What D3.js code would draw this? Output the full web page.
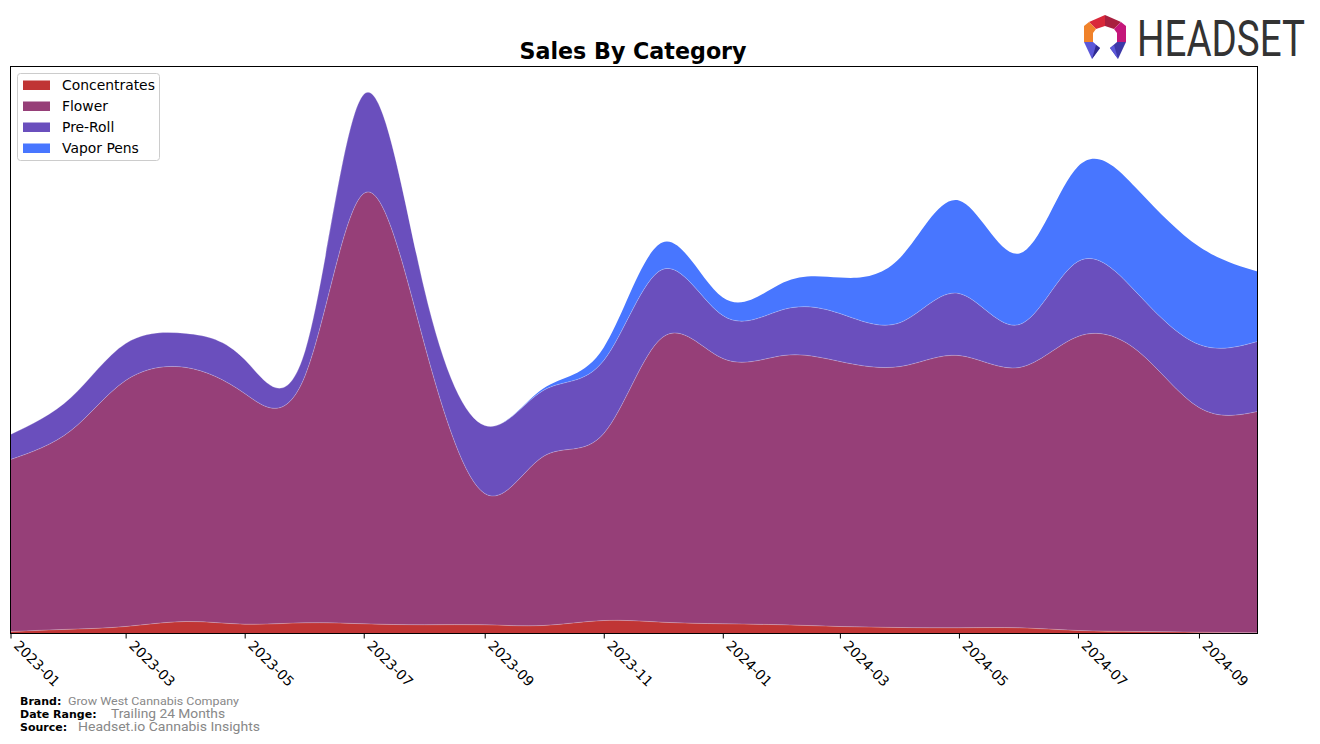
<!DOCTYPE html>
<html>
<head>
<meta charset="utf-8">
<script src="https://cdn.jsdelivr.net/npm/d3@7"></script>
<style>
  html, body { margin: 0; padding: 0; background: #fff; }
  svg { display: block; }
</style>
</head>
<body>
<svg id="chart" width="1320" height="744"></svg>
<script>
// ---- data ----
const months = ["2023-01","2023-02","2023-03","2023-04","2023-05","2023-06","2023-07","2023-08","2023-09","2023-10","2023-11","2023-12",
                "2024-01","2024-02","2024-03","2024-04","2024-05","2024-06","2024-07","2024-08","2024-09","2024-10"];
const categories = ["Concentrates","Flower","Pre-Roll","Vapor Pens"];
const concentrates = [2, 4.3, 7, 12, 9.3, 10.7, 9.7, 8.7, 8.7, 8, 13, 11.3, 9.7, 8.7, 7, 6, 5.7, 5.7, 3, 2, 1.3, 0.7];
const flower       = [172, 198.7, 246, 254, 230.7, 247.3, 430.3, 281.3, 131.3, 169, 187, 284.7, 265.3, 269.3, 265, 261, 272.3, 260.3, 294, 280, 224.7, 221.3];
const preRoll      = [25, 33, 37, 34, 34, 25, 99, 55, 68, 66, 73, 68, 43, 46, 48, 44, 62, 43, 75, 57, 63, 70];
const vaporPens    = [0, 0, 0, 0, 0, 0, 0, 0, 0, 2, 13, 27, 18, 27, 36, 65, 93, 71, 95, 104, 98, 70];
const tickLabels = ["2023-01","2023-03","2023-05","2023-07","2023-09","2023-11","2024-01","2024-03","2024-05","2024-07","2024-09"];
const colors = ["#c03535", "#963f78", "#6a4fbd", "#4876ff"];
const yMax = 567;

// ---- layout ----
const svg = d3.select("#chart");
const L = 10.5, R = 1257.5, T = 66.5, B = 633.5;
const parse = d3.timeParse("%Y-%m");

const rows = months.map((m, i) => ({
  date: parse(m),
  "Concentrates": concentrates[i],
  "Flower": flower[i],
  "Pre-Roll": preRoll[i],
  "Vapor Pens": vaporPens[i]
}));

const x = d3.scaleTime().domain(d3.extent(rows, d => d.date)).range([L, R]);
const y = d3.scaleLinear().domain([0, yMax]).range([B, T]);

const stack = d3.stack().keys(categories);
const series = stack(rows);

const area = d3.area()
  .x(d => x(d.data.date))
  .y0(d => y(d[0]))
  .y1(d => y(d[1]))
  .curve(d3.curveNatural);
const topLine = d3.line()
  .x(d => x(d.data.date))
  .y(d => y(d[1]))
  .curve(d3.curveNatural);

svg.append("defs").append("clipPath").attr("id", "plotclip")
  .append("rect").attr("x", L).attr("y", T).attr("width", R - L).attr("height", B - T);

const g = svg.append("g").attr("clip-path", "url(#plotclip)");
g.selectAll("path.area").data(series).join("path")
  .attr("class", "area")
  .attr("d", area)
  .attr("fill", (d, i) => colors[i]);
g.selectAll("path.edge").data(series.slice(0, 3)).join("path")
  .attr("class", "edge")
  .attr("d", topLine)
  .attr("fill", "none")
  .attr("stroke", "#ffffff")
  .attr("stroke-opacity", 0.3)
  .attr("stroke-width", 0.8);

// frame
svg.append("rect").attr("x", L).attr("y", T).attr("width", R - L).attr("height", B - T)
  .attr("fill", "none").attr("stroke", "#000").attr("stroke-width", 1);

// x axis
const tickDates = tickLabels.map(parse);
const xAxis = d3.axisBottom(x).tickValues(tickDates).tickFormat(d3.timeFormat("%Y-%m")).tickSize(5).tickSizeOuter(0);
const ax = svg.append("g").attr("transform", `translate(0,${B})`).call(xAxis);
ax.select(".domain").remove();
ax.selectAll(".tick line").attr("stroke", "#000").attr("stroke-width", 1);
ax.selectAll(".tick text")
  .attr("font-family", "DejaVu Sans")
  .attr("font-size", 13.9)
  .attr("fill", "#000")
  .attr("text-anchor", "start")
  .attr("dy", null)
  .attr("y", 0)
  .attr("transform", "translate(2,13) rotate(45)");

// title
svg.append("text").attr("x", 633).attr("y", 59).attr("text-anchor", "middle")
  .attr("font-family", "DejaVu Sans").attr("font-weight", "bold").attr("font-size", 22.2)
  .attr("fill", "#000").text("Sales By Category");

// legend
const lg = svg.append("g");
lg.append("rect").attr("x", 17.5).attr("y", 73.5).attr("width", 142).attr("height", 87).attr("rx", 3)
  .attr("fill", "#fff").attr("fill-opacity", 0.8).attr("stroke", "#cccccc");
categories.forEach((c, i) => {
  const cy = 85 + i * 21;
  lg.append("rect").attr("x", 23).attr("y", cy - 4.5).attr("width", 27).attr("height", 9.5).attr("fill", colors[i]);
  lg.append("text").attr("x", 62).attr("y", cy + 5).attr("font-family", "DejaVu Sans").attr("font-size", 13.9)
    .attr("fill", "#000").text(c);
});

// footer
const foot = [
  ["Brand:", "Grow West Cannabis Company", 68, 705, 11, 171],
  ["Date Range:", "Trailing 24 Months", 111, 718, 13, 114],
  ["Source:", "Headset.io Cannabis Insights", 78, 731, 13, 182]
];
foot.forEach(f => {
  svg.append("text").attr("x", 20).attr("y", f[3]).attr("font-family", "DejaVu Sans").attr("font-weight", "bold")
    .attr("font-size", 11).attr("fill", "#000").text(f[0]);
  svg.append("text").attr("x", f[2]).attr("y", f[3]).attr("font-family", "Roboto").attr("font-size", f[4])
    .attr("fill", "#888888").attr("textLength", f[5]).attr("lengthAdjust", "spacingAndGlyphs").text(f[1]);
});

// logo
const logo = svg.append("g");
const polys = [
  [[[1089,22],[1105,15],[1105,26],[1096,29]], "#d9283a"],
  [[[1105,15],[1121,22],[1114,29],[1105,26]], "#a8203f"],
  [[[1084,26],[1089,22],[1096,29],[1093,33],[1093,42],[1084,42]], "#f0822a"],
  [[[1126,26],[1121,22],[1114,29],[1117,33],[1117,42],[1126,42]], "#c4177a"],
  [[[1084,42],[1093,42],[1100,48],[1092,59]], "#5c58d8"],
  [[[1092,59],[1100,48],[1096,45]], "#2f2b8e"],
  [[[1126,42],[1117,42],[1110,48],[1118,59]], "#3d38a8"],
  [[[1118,59],[1110,48],[1114,45]], "#5c58d8"]
];
polys.forEach(p => logo.append("polygon").attr("points", p[0].map(q => q.join(",")).join(" ")).attr("fill", p[1]));
const logoText = logo.append("text").attr("x", 0).attr("y", 0).attr("font-family", "Roboto").attr("font-size", 50)
  .attr("fill", "#333333").text("HEADSET");
const natW = logoText.node().getComputedTextLength();
logoText.attr("transform", `translate(1137,56) scale(${168 / natW},1)`);
</script>
</body>
</html>
